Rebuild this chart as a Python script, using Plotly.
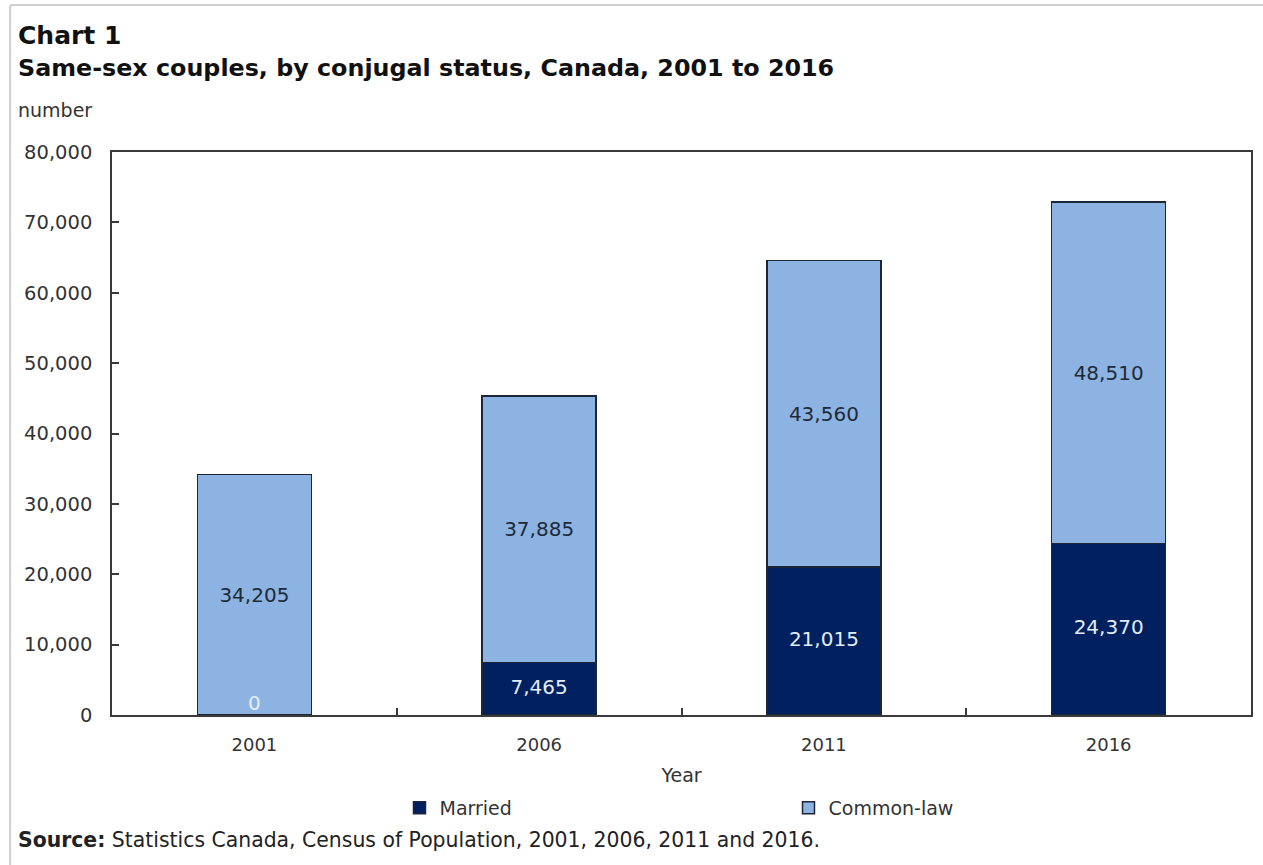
import plotly.graph_objects as go

# ---- data ----
years = ["2001", "2006", "2011", "2016"]
married = [0, 7465, 21015, 24370]
common_law = [34205, 37885, 43560, 48510]
y_ticks = [0, 10000, 20000, 30000, 40000, 50000, 60000, 70000, 80000]

# ---- layout geometry (pixels) ----
FW, FH = 1263, 865
L, R, T, B = 112, 10, 152, 150
PW, PH = FW - L - R, FH - T - B


def px(x):
    return (x - L) / PW


def py(y):
    return (FH - B - y) / PH


FONT = "DejaVu Sans, Verdana, sans-serif"
NAVY = "#002060"
LIGHT = "#8DB3E2"
EDGE = "#1c2636"

fig = go.Figure()
fig.add_trace(go.Bar(
    x=years, y=married, name="Married", width=0.4,
    marker=dict(color=NAVY, line=dict(color=EDGE, width=1.5)),
    hoverinfo="skip",
))
fig.add_trace(go.Bar(
    x=years, y=common_law, name="Common-law", width=0.4,
    marker=dict(color=LIGHT, line=dict(color=EDGE, width=1.5)),
    text=[f"{v:,}" for v in common_law], texttemplate="%{text}",
    textposition="inside", insidetextanchor="middle",
    textfont=dict(family=FONT, size=20, color="#1e2a38"),
    hoverinfo="skip",
))
# labels for married segments (centred in their segment; zero sits on the axis)
fig.add_trace(go.Scatter(
    x=years, y=[v / 2 for v in married], mode="text",
    text=[f"{v:,}" for v in married],
    textposition=["top center" if v == 0 else "middle center" for v in married],
    textfont=dict(family=FONT, size=20, color="#e4ecf6"),
    showlegend=False, hoverinfo="skip",
))

fig.update_layout(
    width=FW, height=FH,
    margin=dict(l=L, r=R, t=T, b=B),
    barmode="stack",
    paper_bgcolor="white", plot_bgcolor="white",
    font=dict(family=FONT, size=19, color="#333333"),
    showlegend=True,
    legend=dict(
        orientation="h", x=px(400), xanchor="left", y=py(808), yanchor="middle",
        font=dict(family=FONT, size=19, color="#333333"),
        entrywidth=344, entrywidthmode="pixels", itemwidth=30,
        traceorder="normal", bgcolor="rgba(0,0,0,0)",
    ),
    xaxis=dict(
        type="category", categoryorder="array", categoryarray=years,
        showline=True, linecolor="#3a3a3a", linewidth=1.5, mirror=True,
        ticks="inside", ticklen=7, tickcolor="#3a3a3a", tickwidth=1.5,
        tickson="boundaries", showgrid=False, zeroline=False,
        tickfont=dict(family=FONT, size=18, color="#333333"),
        ticklabelstandoff=13,
        title=dict(text="Year", standoff=14, font=dict(family=FONT, size=19, color="#333333")),
        fixedrange=True,
    ),
    yaxis=dict(
        range=[0, 80000], tickvals=y_ticks, tickformat=",",
        showline=True, linecolor="#3a3a3a", linewidth=1.5, mirror=True,
        ticks="inside", ticklen=7, tickcolor="#3a3a3a", tickwidth=1.5,
        showgrid=False, zeroline=False,
        tickfont=dict(family=FONT, size=19.5, color="#333333"),
        ticklabelstandoff=14,
        fixedrange=True,
    ),
    annotations=[
        dict(text="<b>Chart 1</b>", xref="paper", yref="paper", x=px(16), y=py(36),
             xanchor="left", yanchor="middle", showarrow=False,
             font=dict(family=FONT, size=25, color="#111111")),
        dict(text="<b>Same-sex couples, by conjugal status, Canada, 2001 to 2016</b>",
             xref="paper", yref="paper", x=px(16), y=py(68),
             xanchor="left", yanchor="middle", showarrow=False,
             font=dict(family=FONT, size=23.8, color="#111111")),
        dict(text="number", xref="paper", yref="paper", x=px(16), y=py(110),
             xanchor="left", yanchor="middle", showarrow=False,
             font=dict(family=FONT, size=19, color="#333333")),
        dict(text="<b>Source:</b> Statistics Canada, Census of Population, 2001, 2006, 2011 and 2016.",
             xref="paper", yref="paper", x=px(16), y=py(840),
             xanchor="left", yanchor="middle", showarrow=False,
             font=dict(family=FONT, size=20.4, color="#222222")),
    ],
    shapes=[
        dict(type="line", xref="paper", yref="paper", x0=px(10), x1=px(1270), y0=py(5), y1=py(5),
             line=dict(color="#cfcfcf", width=2)),
        dict(type="line", xref="paper", yref="paper", x0=px(10), x1=px(10), y0=py(5), y1=py(870),
             line=dict(color="#cfcfcf", width=2)),
    ],
)

fig.write_html("out.html", config={"displayModeBar": False})
